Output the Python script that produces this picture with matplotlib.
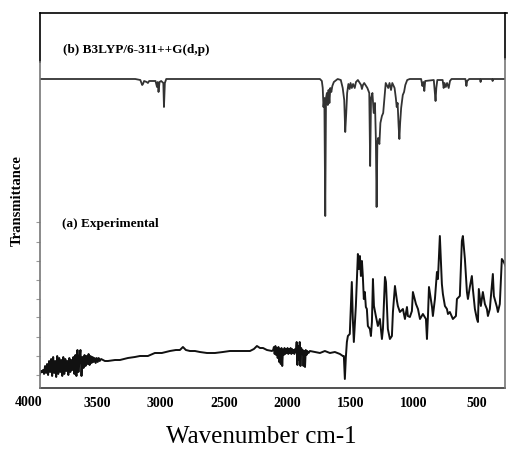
import matplotlib
matplotlib.use("Agg")
import matplotlib.pyplot as plt
from matplotlib.transforms import blended_transform_factory

# ---------------- data (arbitrary transmittance units) ----------------
calc_wn = [3953, 3200, 3160, 3145, 3139, 3130, 3110, 3100, 3090, 3040, 3028, 3022,
           3016, 3008, 2995, 2978, 2973, 2966, 2955, 1740, 1725, 1718, 1712, 1705,
           1698, 1692, 1685, 1678, 1672, 1665, 1658, 1650, 1642, 1630, 1600, 1575,
           1560, 1548, 1540, 1532, 1525, 1515, 1505, 1498, 1488, 1478, 1465, 1455,
           1440, 1415, 1408, 1400, 1390, 1365, 1350, 1343, 1336, 1325, 1315, 1305,
           1298, 1292, 1286, 1280, 1270, 1262, 1250, 1240, 1230, 1220, 1200, 1190,
           1178, 1168, 1150, 1140, 1133, 1126, 1118, 1112, 1106, 1098, 1085, 1075,
           1065, 1050, 1030, 940, 930, 922, 915, 908, 840, 832, 826, 820, 812, 770,
           762, 755, 745, 735, 722, 712, 700, 590, 582, 576, 560, 475, 470, 465,
           380, 375, 370, 262]
calc_T = [309, 309, 308, 303, 304, 307, 306, 305, 307, 307, 301, 306,
          296, 306, 307, 305, 281, 305, 309, 309, 307, 300, 281, 290,
          172, 290, 295, 283, 298, 285, 300, 296, 302, 306, 309, 308,
          300, 288, 256, 275, 295, 304, 299, 305, 300, 304, 300, 306,
          308, 303, 299, 303, 305, 300, 295, 222, 290, 295, 275, 285,
          250, 181, 245, 250, 244, 265, 272, 275, 290, 305, 300, 305,
          298, 305, 300, 290, 281, 285, 262, 249, 265, 280, 293, 296,
          303, 308, 309, 309, 302, 306, 297, 307, 308, 296, 287, 300, 308, 308,
          300, 305, 301, 305, 300, 307, 309, 309, 302, 307, 309, 309, 306, 309,
          309, 307, 309, 309]

exp_wn = [3953, 3945, 3937,
          3929, 3921, 3913, 3905, 3897, 3889, 3881, 3873, 3865, 3857, 3849, 3841,
          3833, 3825, 3817, 3809, 3801, 3793, 3785, 3777, 3769, 3761, 3753, 3745,
          3737, 3729, 3721, 3713, 3705, 3697, 3689, 3681, 3673, 3665, 3657, 3649,
          3641, 3633, 3625, 3617, 3609, 3601, 3593, 3585, 3577, 3569, 3561, 3553,
          3545, 3537, 3529, 3521, 3513, 3505, 3497, 3489, 3481, 3470, 3440, 3416,
          3360, 3321, 3258, 3203, 3163, 3100, 3045, 2990, 2926, 2879, 2847, 2823,
          2800, 2768, 2728, 2689, 2633, 2570, 2507, 2452, 2372, 2293, 2262, 2238,
          2214, 2190, 2159, 2119,
          2110, 2104, 2098, 2092, 2086, 2080, 2074, 2068, 2062, 2056, 2050, 2044,
          2038, 2032, 2026, 2020, 2014, 2008, 2002, 1996, 1990, 1984, 1978, 1972,
          1966, 1960, 1954, 1948, 1942, 1936, 1930, 1924, 1918, 1912, 1906, 1900,
          1894, 1888, 1882, 1876, 1870, 1864, 1858, 1852, 1846, 1840, 1830, 1819,
          1780, 1740, 1701, 1661, 1622, 1582,
          1559, 1551, 1543, 1535, 1527, 1519, 1504, 1488, 1480, 1472, 1456, 1440,
          1432, 1424, 1416, 1408, 1401, 1393, 1385, 1377, 1369, 1361, 1345, 1337,
          1329, 1321, 1313, 1298, 1282, 1266, 1250, 1242, 1226, 1218, 1203, 1187,
          1171, 1163, 1147, 1131, 1124, 1108, 1084, 1068, 1052, 1045, 1029, 1013,
          1005, 981, 965, 949, 926, 902, 894, 886, 878, 854, 847, 831,
          815, 807, 792, 776, 768, 752, 736, 728, 713, 689, 665, 657,
          634, 618, 610, 594, 578, 570, 555, 539, 531, 515, 499, 491,
          484, 468, 452, 436, 420, 412, 397, 373, 365, 341, 333, 318,
          302, 286, 270]
exp_T = [14, 17, 16,
         18, 14, 22, 15, 24, 13, 27, 16, 29, 12, 31, 15,
         27, 11, 32, 14, 30, 16, 28, 12, 31, 14, 29, 17,
         27, 13, 30, 16, 28, 18, 31, 14, 33, 12, 38, 16,
         30, 38, 12, 31, 20, 33, 22, 32, 24, 34, 23, 32,
         25, 31, 26, 30, 25, 30, 26, 30, 27, 29, 27, 27,
         28, 28, 30, 31, 32, 32, 35, 35, 37, 38, 38, 41,
         38, 37, 37, 36, 35, 35, 36, 37, 37, 37, 39, 42,
         40, 40, 38, 37,
         38, 41, 34, 42, 33, 40, 30, 41, 26, 39, 24, 40,
         22, 38, 33, 40, 34, 39, 35, 40, 34, 39, 35, 40,
         34, 39, 35, 38, 34, 39, 36, 46, 23, 42, 28, 46,
         22, 40, 34, 38, 22, 37, 21, 38, 33, 37, 35, 37,
         36, 35, 37, 35, 36, 34,
         32, 32, 9, 31, 46, 52, 54, 106, 69, 46, 82, 134,
         119, 132, 112, 127, 112, 89, 96, 81, 79, 62, 59, 52,
         66, 109, 82, 72, 62, 69, 49, 59, 111, 106, 59, 49,
         52, 76, 102, 87, 82, 76, 79, 69, 81, 72, 71, 77,
         96, 84, 79, 69, 74, 69, 49, 72, 101, 81, 72, 89,
         116, 109, 152, 104, 94, 82, 79, 74, 76, 69, 72, 89,
         92, 147, 152, 129, 96, 89, 101, 112, 99, 79, 69, 66,
         99, 82, 96, 84, 79, 72, 79, 114, 92, 81, 76, 84,
         129, 126, 121]

xtick_vals = [3500, 3000, 2500, 2000, 1500, 1000, 500]
ytick_vals = [166, 146, 127, 108, 89, 71, 51, 32, 13]

# ---------------- figure ----------------
fig = plt.figure(figsize=(5.09, 4.52), dpi=100)
ax = fig.add_axes([40 / 509, 63 / 452, 465 / 509, 375 / 452])
ax.set_xlim(3953, 277)
ax.set_ylim(0, 375)

ax.plot(calc_wn, calc_T, color="#333333", lw=1.3)
ax.plot(exp_wn, exp_T, color="#111111", lw=1.4)

for s in ax.spines.values():
    s.set_visible(False)
# frame
ax.plot([0, 1.004], [1, 1], transform=ax.transAxes, color="black", lw=1.2, clip_on=False)
ax.plot([0, 1], [0, 0], transform=ax.transAxes, color="#333333", lw=1.2, clip_on=False)
ax.plot([0, 0], [0.869, 1], transform=ax.transAxes, color="black", lw=1.2, clip_on=False)
ax.plot([0, 0], [0, 0.869], transform=ax.transAxes, color="#777777", lw=1.2, clip_on=False)
ax.plot([1, 1], [0.877, 1], transform=ax.transAxes, color="black", lw=1.2, clip_on=False)
ax.plot([1, 1], [0, 0.877], transform=ax.transAxes, color="#777777", lw=1.2, clip_on=False)

serif = ["Liberation Serif", "DejaVu Serif"]
ax.set_xticks(xtick_vals)
ax.set_xticklabels([str(v) for v in xtick_vals], fontfamily=serif,
                   fontweight="bold", fontsize=10)
ax.tick_params(axis="x", length=0, pad=6)
ax.set_yticks(ytick_vals)
ax.set_yticklabels([])
ax.tick_params(axis="y", length=3, width=0.8, color="#999999", direction="out")

trans = blended_transform_factory(ax.transData, ax.transAxes)
ax.text(4045, -0.019, "4000", transform=trans, ha="center", va="top",
        fontfamily=serif, fontweight="bold", fontsize=10, clip_on=False)

fig.text(63 / 509, 1 - 50 / 452, "(b) B3LYP/6-311++G(d,p)", ha="left", va="center",
         fontfamily=serif, fontweight="bold", fontsize=9.5)
fig.text(62 / 509, 1 - 224 / 452, "(a) Experimental", ha="left", va="center",
         fontfamily=serif, fontweight="bold", fontsize=9.5)
fig.text(17 / 509, 1 - 201 / 452, "Transmittance", ha="center", va="center",
         rotation=90, fontfamily=serif, fontweight="bold", fontsize=10.5)
fig.text(261 / 509, 1 - 437 / 452, "Wavenumber cm-1", ha="center", va="center",
         fontfamily=serif, fontsize=18)

fig.savefig("out.png", dpi=100)
